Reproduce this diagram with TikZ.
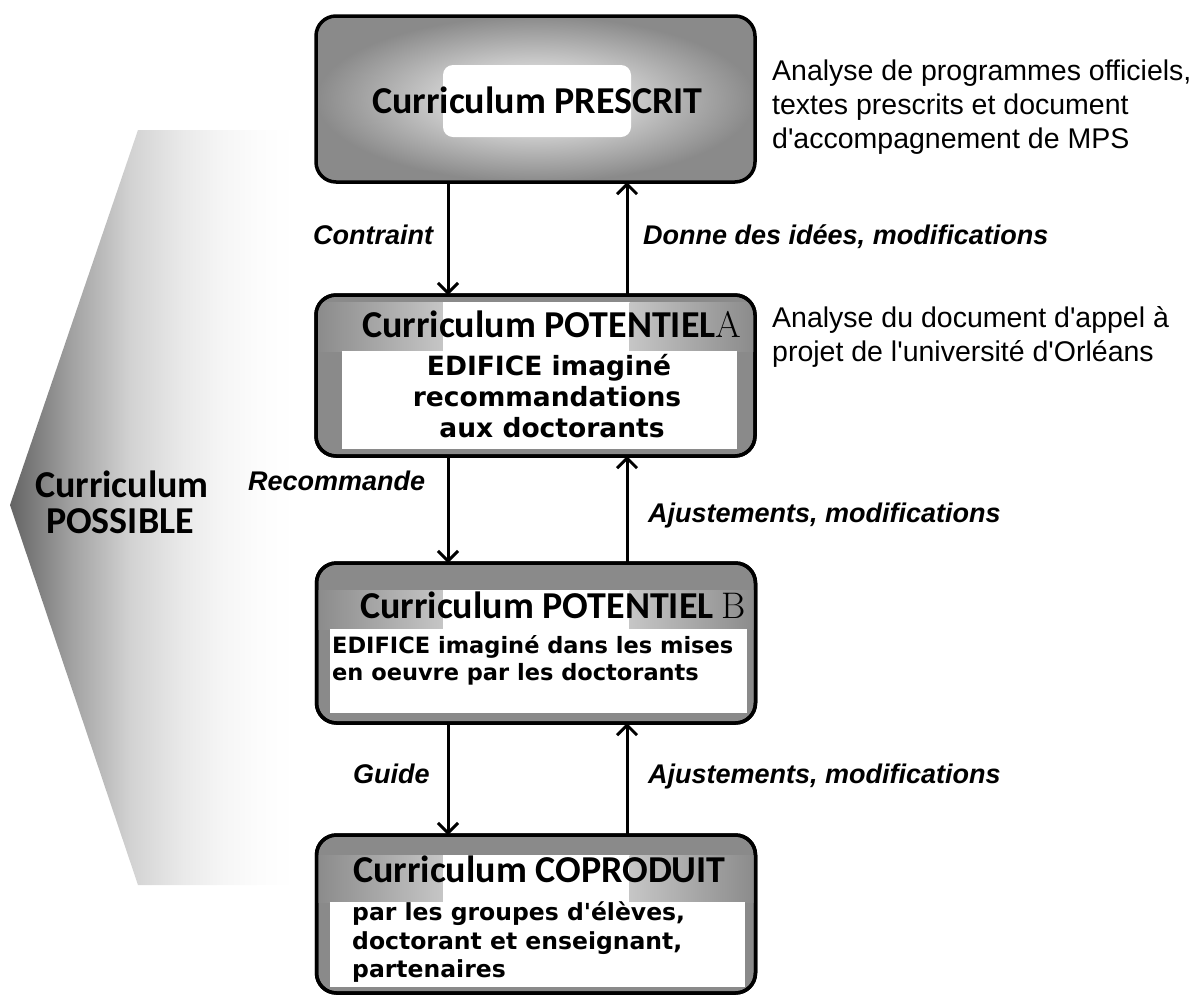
\documentclass[tikz,border=0pt]{standalone}
\usepackage{fontspec}
\newfontfamily\calfont{Carlito}
\newfontfamily\verdfont{DejaVu Sans}
\newfontfamily\arlfont{Liberation Sans}
\usetikzlibrary{arrows.meta}
\definecolor{boxgray}{RGB}{138,138,138}
\definecolor{bandlight}{RGB}{198,198,198}
\definecolor{chevA}{RGB}{100,100,100}
\definecolor{chevB}{RGB}{160,160,160}
\definecolor{chevC}{RGB}{210,210,210}
\definecolor{chevD}{RGB}{234,234,234}
\definecolor{chevE}{RGB}{246,246,246}
\definecolor{chevF}{RGB}{252,252,252}
\pgfdeclarehorizontalshading{chevshade}{100bp}{color(0bp)=(chevA); color(25bp)=(chevA); color(35.3bp)=(chevB); color(45.7bp)=(chevC); color(55bp)=(chevD); color(62bp)=(chevE); color(68bp)=(chevF); color(74bp)=(white); color(100bp)=(white)}
\begin{document}
\begin{tikzpicture}[x=1pt,y=-1pt,
  box/.style={draw=black, line width=3.5pt, rounded corners=20pt, fill=boxgray, minimum width=439pt, inner sep=0pt, outer sep=0pt},
  topbox/.style={draw=black, line width=3.5pt, rounded corners=20pt, shading=radial, inner color=white, outer color=boxgray, minimum width=439pt, inner sep=0pt, outer sep=0pt},
  rim/.style={draw=black, line width=3.5pt, rounded corners=20pt},
  whitebox/.style={fill=white, draw=none, inner sep=0pt, outer sep=0pt},
  title/.style={font=\calfont\bfseries\fontsize{38pt}{44pt}\selectfont, inner sep=0pt, anchor=base west},
  letter/.style={font=\rmfamily\fontsize{37pt}{42pt}\selectfont, inner sep=0pt, anchor=base west},
  bodyA/.style={font=\verdfont\bfseries\fontsize{26.5pt}{31pt}\selectfont, inner sep=0pt, anchor=base},
  bodyB/.style={font=\verdfont\bfseries\fontsize{22.5pt}{27pt}\selectfont, inner sep=0pt, anchor=base west},
  bodyC/.style={font=\verdfont\bfseries\fontsize{23.5pt}{28pt}\selectfont, inner sep=0pt, anchor=base west},
  lab/.style={font=\arlfont\bfseries\itshape\fontsize{27pt}{32pt}\selectfont, inner sep=0pt, anchor=base west},
  note/.style={font=\arlfont\fontsize{28.5pt}{34pt}\selectfont, inner sep=0pt, anchor=base west},
  side/.style={font=\calfont\bfseries\fontsize{38pt}{42pt}\selectfont, inner sep=0pt, anchor=base},
  arr/.style={line width=3pt, -{Straight Barb[length=10pt,width=20pt]}}
]
\useasboundingbox (0,0) rectangle (1195,997);

% left chevron (Curriculum POSSIBLE)
\path[shading=chevshade] (138,130) -- (300,130) -- (300,885) -- (138,885) -- (10,505) -- cycle;
\node[side] (possA) at (122,497) {Curriculum};
\node[side] (possB) at (120,533) {POSSIBLE};

% top box
\node[topbox, minimum height=166pt] (pres) at (535.5,99) {};
\node[whitebox, rounded corners=10pt, minimum width=188pt, minimum height=72pt] (presw) at (537,101) {};
\node[title] (presT) at (372,113) {Curriculum PRESCRIT};

% box A
\node[box, minimum height=161pt] (potA) at (535.5,375.5) {};
\begin{scope}
  \clip[rounded corners=20pt] (potA.south west) rectangle (potA.north east);
  \fill[left color=boxgray, right color=bandlight] (315,302) rectangle (443.5,351);
  \fill[white] (443,302) rectangle (630,351);
  \fill[left color=bandlight, right color=boxgray] (629.5,302) rectangle (756,351);
\end{scope}
\draw[rim] (potA.south west) rectangle (potA.north east);
\node[whitebox, minimum width=395pt, minimum height=98pt] (potAw) at (539.5,400) {};
\node[title] (potAT) at (362,337) {Curriculum POTENTIEL};
\node[letter] (potAL) at (potAT.base east) {A};
\node[bodyA] (potA1) at (549,375) {EDIFICE imaginé};
\node[bodyA] (potA2) at (547,406) {recommandations};
\node[bodyA] (potA3) at (552,437) {aux doctorants};

% box B
\node[box, minimum height=160pt] (potB) at (536,643) {};
\begin{scope}
  \clip[rounded corners=20pt] (potB.south west) rectangle (potB.north east);
  \fill[left color=boxgray, right color=bandlight] (315,590) rectangle (443.5,629);
  \fill[white] (443,590) rectangle (630,629);
  \fill[left color=bandlight, right color=boxgray] (629.5,590) rectangle (757,629);
\end{scope}
\draw[rim] (potB.south west) rectangle (potB.north east);
\node[whitebox, minimum width=417pt, minimum height=84pt] (potBw) at (538.5,671) {};
\node[title] (potBT) at (360,618) {Curriculum POTENTIEL};
\node[letter] (potBL) at ([xshift=8pt]potBT.base east) {B};
\node[bodyB] (potB1) at (332,653) {EDIFICE imaginé dans les mises};
\node[bodyB] (potB2) at (332,680) {en oeuvre par les doctorants};

% box C
\node[box, minimum height=158pt] (copr) at (536,914) {};
\begin{scope}
  \clip[rounded corners=20pt] (copr.south west) rectangle (copr.north east);
  \fill[left color=boxgray, right color=bandlight] (315,855) rectangle (443.5,902);
  \fill[white] (443,855) rectangle (630,902);
  \fill[left color=bandlight, right color=boxgray] (629.5,855) rectangle (757,902);
\end{scope}
\draw[rim] (copr.south west) rectangle (copr.north east);
\node[whitebox, minimum width=415pt, minimum height=85pt] (coprw) at (537.5,944.5) {};
\node[title] (coprT) at (353,882) {Curriculum COPRODUIT};
\node[bodyC] (copr1) at (352,920) {par les groupes d'élèves,};
\node[bodyC] (copr2) at (352,949) {doctorant et enseignant,};
\node[bodyC] (copr3) at (352,977) {partenaires};

% arrows
\coordinate (xl) at (448,0);
\coordinate (xr) at (627,0);
\draw[arr] (pres.south -| xl) -- (potA.north -| xl);
\draw[arr] (potA.north -| xr) -- (pres.south -| xr);
\draw[arr] (potA.south -| xl) -- (potB.north -| xl);
\draw[arr] (potB.north -| xr) -- (potA.south -| xr);
\draw[arr] (potB.south -| xl) -- (copr.north -| xl);
\draw[arr] (copr.north -| xr) -- (potB.south -| xr);

% arrow labels
\node[lab] (lContr) at (313,244) {Contraint};
\node[lab] (lDonne) at (643,244) {Donne des idées, modifications};
\node[lab] (lRec) at (248,490) {Recommande};
\node[lab] (lAj1) at (648,522) {Ajustements, modifications};
\node[lab] (lGuide) at (353,783) {Guide};
\node[lab] (lAj2) at (648,783) {Ajustements, modifications};

% side notes
\node[note] (n1) at (772,80) {Analyse de programmes officiels,};
\node[note] (n2) at (772,114) {textes prescrits et document};
\node[note] (n3) at (772,148) {d'accompagnement de MPS};
\node[note] (n4) at (772,327) {Analyse du document d'appel à};
\node[note] (n5) at (772,361) {projet de l'université d'Orléans};
\end{tikzpicture}
\end{document}
